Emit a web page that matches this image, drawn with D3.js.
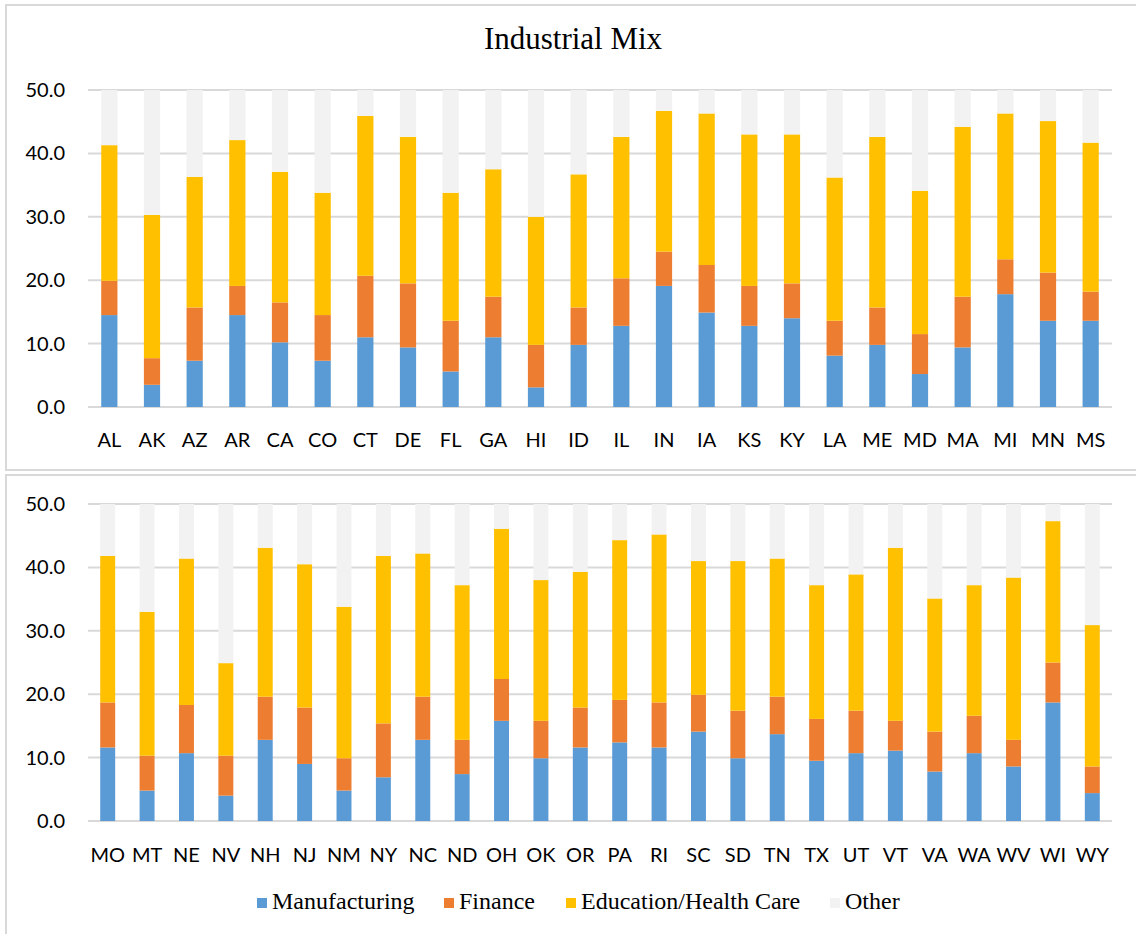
<!DOCTYPE html>
<html lang="en">
<head>
<meta charset="UTF-8"/>
<title>Industrial Mix</title>
<script src="https://d3js.org/d3.v7.min.js"></script>
<style>
  body { margin: 0; background: #fff; }
  svg { display: block; }
</style>
</head>
<body>
<script>
// ---- data (percent of employment) ----
var statesTop = ["AL","AK","AZ","AR","CA","CO","CT","DE","FL","GA","HI","ID",
                 "IL","IN","IA","KS","KY","LA","ME","MD","MA","MI","MN","MS"];
var manufTop  = [14.5,3.5,7.3,14.5,10.2,7.3,11.0,9.4,5.6,11.0,3.1,9.8,
                 12.8,19.1,14.9,12.8,14.0,8.1,9.8,5.2,9.4,17.8,13.6,13.6];
var financeTop = [5.4,4.2,8.4,4.6,6.3,7.2,9.7,10.1,8.0,6.4,6.7,5.9,
                  7.5,5.4,7.5,6.3,5.5,5.5,5.9,6.3,8.0,5.5,7.6,4.6];
var eduTop    = [21.4,22.6,20.6,23.0,20.6,19.3,25.2,23.1,20.2,20.1,20.2,21.0,
                 22.3,22.2,23.9,23.9,23.5,22.6,26.9,22.6,26.8,23.0,23.9,23.5];
var otherTop  = [8.7,19.7,13.7,7.9,12.9,16.2,4.1,7.4,16.2,12.5,20.0,13.3,
                 7.4,3.3,3.7,7.0,7.0,13.8,7.4,15.9,5.8,3.7,4.9,8.3];

var statesBot = ["MO","MT","NE","NV","NH","NJ","NM","NY","NC","ND","OH","OK","OR",
                 "PA","RI","SC","SD","TN","TX","UT","VT","VA","WA","WV","WI","WY"];
var manufBot  = [11.6,4.8,10.7,4.0,12.8,9.0,4.8,6.9,12.8,7.4,15.8,9.9,11.6,
                 12.4,11.6,14.1,9.9,13.7,9.5,10.7,11.1,7.8,10.7,8.6,18.7,4.4];
var financeBot = [7.1,5.5,7.6,6.3,6.8,8.9,5.1,8.5,6.8,5.4,6.6,5.9,6.3,
                  6.7,7.1,5.8,7.5,5.9,6.6,6.7,4.7,6.3,5.9,4.2,6.3,4.2];
var eduBot    = [23.1,22.7,23.1,14.6,23.5,22.6,23.9,26.4,22.6,24.4,23.7,22.2,21.4,
                 25.2,26.5,21.1,23.6,21.8,21.1,21.5,27.3,21.0,20.6,25.6,22.3,22.3];
var otherBot  = [8.2,17.0,8.6,25.1,6.9,9.5,16.2,8.2,7.8,12.8,3.9,12.0,10.7,
                 5.7,4.8,9.0,9.0,8.6,12.8,11.1,6.9,14.9,12.8,11.6,2.7,19.1];

var seriesNames = ["Manufacturing","Finance","Education/Health Care","Other"];
var seriesKeys  = ["manuf","finance","edu","other"];
var colors      = ["#5B9BD5","#ED7D31","#FFC000","#F2F2F2"];
var yTicks      = [0,10,20,30,40,50];

var W = 1136, H = 934;

var svg = d3.select("body").append("svg")
    .attr("width", W)
    .attr("height", H);

// panel frames
svg.append("rect")
    .attr("x", 6).attr("y", 5)
    .attr("width", W + 10).attr("height", 465)
    .attr("fill", "none").attr("stroke", "#d9d9d9").attr("stroke-width", 2);
svg.append("rect")
    .attr("x", 6).attr("y", 475)
    .attr("width", W + 10).attr("height", H)
    .attr("fill", "none").attr("stroke", "#d9d9d9").attr("stroke-width", 2);

// title
svg.append("text")
    .attr("x", 573).attr("y", 49)
    .attr("text-anchor", "middle")
    .attr("font-family", "'Liberation Serif', 'Times New Roman', serif")
    .attr("font-size", "31px")
    .attr("fill", "#000")
    .text("Industrial Mix");

function drawPanel(states, manuf, finance, edu, other, yTop, yBottom, labelY) {
    var rows = states.map(function(s, i) {
        return { state: s, manuf: manuf[i], finance: finance[i], edu: edu[i], other: other[i] };
    });

    var x = d3.scaleBand()
        .domain(states)
        .range([88, 1112])
        .paddingInner(0.62)
        .paddingOuter(0.31);

    var y = d3.scaleLinear()
        .domain([0, 50])
        .range([yBottom, yTop]);

    var g = svg.append("g");

    // gridlines
    g.selectAll("line.grid")
        .data(yTicks)
        .enter()
        .append("line")
        .attr("class", "grid")
        .attr("x1", 88).attr("x2", 1112)
        .attr("y1", function(d) { return y(d); })
        .attr("y2", function(d) { return y(d); })
        .attr("stroke", "#d9d9d9")
        .attr("stroke-width", 2);

    // y labels
    g.selectAll("text.ytick")
        .data(yTicks)
        .enter()
        .append("text")
        .attr("class", "ytick")
        .attr("x", 65)
        .attr("y", function(d) { return y(d) + 7; })
        .attr("text-anchor", "end")
        .attr("font-family", "Lato, 'Open Sans', sans-serif")
        .attr("font-size", "20px")
        .attr("fill", "#000")
        .text(function(d) { return d.toFixed(1); });

    var stack = d3.stack().keys(seriesKeys)(rows);

    g.selectAll("g.series")
        .data(stack)
        .enter()
        .append("g")
        .attr("class", "series")
        .attr("fill", function(d, i) { return colors[i]; })
        .selectAll("rect")
        .data(function(d) { return d; })
        .enter()
        .append("rect")
        .attr("x", function(d) { return x(d.data.state); })
        .attr("width", x.bandwidth())
        .attr("y", function(d) { return y(d[1]); })
        .attr("height", function(d) { return y(d[0]) - y(d[1]); });

    // x labels
    g.selectAll("text.xtick")
        .data(states)
        .enter()
        .append("text")
        .attr("class", "xtick")
        .attr("x", function(d) { return x(d) + x.bandwidth() / 2; })
        .attr("y", labelY)
        .attr("text-anchor", "middle")
        .attr("font-family", "Lato, 'Open Sans', sans-serif")
        .attr("font-size", "20px")
        .attr("fill", "#000")
        .text(function(d) { return d; });
}

drawPanel(statesTop, manufTop, financeTop, eduTop, otherTop, 90, 407, 447);
drawPanel(statesBot, manufBot, financeBot, eduBot, otherBot, 504, 821, 862);

// legend
var legendX = [257, 444, 566, 830];
var legend = svg.append("g");
legend.selectAll("rect")
    .data(seriesNames)
    .enter()
    .append("rect")
    .attr("x", function(d, i) { return legendX[i]; })
    .attr("y", 898)
    .attr("width", 10).attr("height", 10)
    .attr("fill", function(d, i) { return colors[i]; });
legend.selectAll("text")
    .data(seriesNames)
    .enter()
    .append("text")
    .attr("x", function(d, i) { return legendX[i] + 15; })
    .attr("y", 909)
    .attr("font-family", "'Liberation Serif', 'Times New Roman', serif")
    .attr("font-size", "24px")
    .attr("fill", "#000")
    .text(function(d) { return d; });
</script>
</body>
</html>
